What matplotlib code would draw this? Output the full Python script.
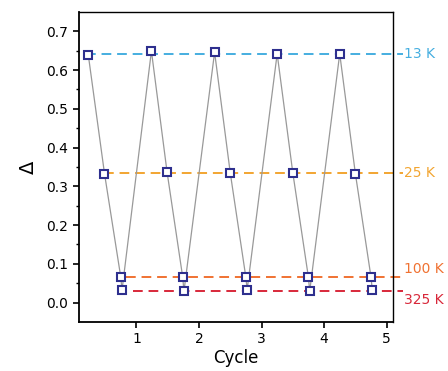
import numpy as np
import matplotlib.pyplot as plt

plt.rcParams['font.family'] = ['DejaVu Sans']

# values
ciclo = [0.23, 0.49, 0.75, 0.77, 1.24, 1.49, 1.74, 1.76, 2.25, 2.50, 2.75, 2.77,
         3.25, 3.50, 3.75, 3.77, 4.25, 4.50, 4.75, 4.77]
delta = [0.640, 0.333, 0.066, 0.032, 0.649, 0.337, 0.066, 0.029, 0.646, 0.335, 0.065, 0.033,
         0.642, 0.335, 0.065, 0.029, 0.642, 0.333, 0.066, 0.033]

temps = ['13 K', '25 K', '100 K', '325 K']
niveis = [0.642, 0.335, 0.066, 0.031]
inicio = [0.2, 0.49, 0.83, 0.95]
cores = ['#45aee0', '#f2a531', '#f07232', '#d8283a']
desloc_txt = [0, 0, 0.022, -0.024]

fig = plt.figure(figsize=(4.48, 3.71), dpi=100)
ax = fig.add_axes([0.176, 0.132, 0.701, 0.836])

# linhas tracejadas de referencia + rotulos de temperatura
for t, y, x0, c, d in zip(temps, niveis, inicio, cores, desloc_txt):
    ax.plot([x0, 5.26], [y, y], color=c, lw=1.4, ls=(0, (5, 3)), clip_on=False, zorder=1)
    ax.text(5.27, y + d, t, color=c, fontsize=10, va='center', ha='left')

ax.plot(ciclo, delta, color='#999999', lw=0.9, marker='s', ms=6, mfc='white',
        mec='#2e2f8e', mew=1.5, zorder=3)

ax.set_xlim(0.08, 5.1)
ax.set_ylim(-0.05, 0.75)
ax.set_xticks([1, 2, 3, 4, 5])
ax.set_yticks(np.arange(0, 0.71, 0.1))
ax.set_yticklabels(['0.0', '0.1', '0.2', '0.3', '0.4', '0.5', '0.6', '0.7'])
ax.set_yticks(np.arange(0.05, 0.66, 0.1), minor=True)
ax.tick_params(axis='both', labelsize=10, direction='out', length=4, width=1.2)
ax.tick_params(axis='y', which='minor', length=2.5, width=1)
for s in ax.spines.values():
    s.set_linewidth(1.3)
ax.spines['top'].set_linewidth(1.0)
ax.spines['right'].set_linewidth(1.0)

ax.set_xlabel('Cycle', fontsize=12, labelpad=2)
ax.set_ylabel('Δ', fontsize=14, labelpad=6)

plt.savefig('out.png', dpi=100)
